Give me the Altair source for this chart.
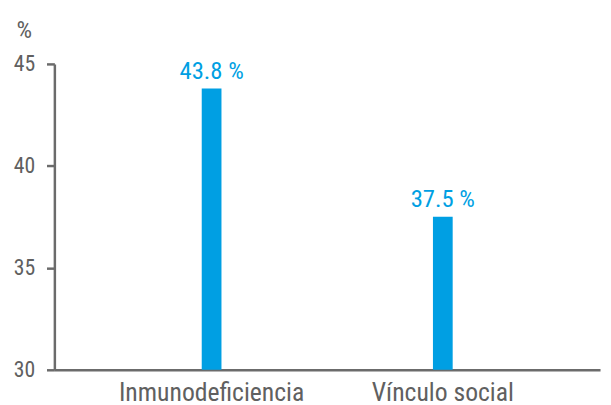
import altair as alt
import pandas as pd

categories = ["Inmunodeficiencia", "Vínculo social"]
values = [43.8, 37.5]
labels = ["43.8 %", "37.5 %"]

df = pd.DataFrame({"cat": categories, "val": values, "lab": labels})

FONT = "Roboto Condensed, Liberation Sans Narrow, DejaVu Sans Condensed, Roboto, sans-serif"
BLUE = "#009fe3"
GREY = "#606060"

x = alt.X("cat:N", sort=categories,
          scale=alt.Scale(paddingInner=0, paddingOuter=0.18, align=0.5),
          axis=alt.Axis(title=None, labelAngle=0, ticks=False, labelFont=FONT,
                        labelFontSize=26, labelColor=GREY, labelPadding=10,
                        labelLimit=400, domainColor="#6b6b6b", domainWidth=2.5))
y = alt.Y("val:Q", scale=alt.Scale(domain=[30, 45], nice=False, zero=False),
          axis=alt.Axis(values=[30, 35, 40, 45], title="%", titleAngle=0,
                        titleX=-31, titleY=-35, titleAlign="center", titleBaseline="middle",
                        titleFont=FONT, titleFontSize=25, titleFontWeight="normal",
                        titleColor=GREY, labelFont=FONT, labelFontSize=22,
                        labelColor=GREY, labelPadding=12, tickSize=8, tickWidth=2.5,
                        tickColor="#6b6b6b", domainColor="#6b6b6b", domainWidth=2.5,
                        grid=False))

bars = alt.Chart(df).mark_bar(width=20, color=BLUE).encode(x=x, y=y, y2=alt.datum(30))
text = alt.Chart(df).mark_text(dy=-18, font=FONT, fontSize=25, color=BLUE,
                               baseline="middle").encode(
    x=alt.X("cat:N", sort=categories), y="val:Q", text="lab:N")

chart = (bars + text).properties(
    width=553, height=310,
    autosize=alt.AutoSizeParams(type="none"),
    padding={"left": 47, "top": 54, "right": 3, "bottom": 33},
).configure_view(stroke=None)

chart.save("out.html", embed_options={"renderer": "svg", "actions": False})
